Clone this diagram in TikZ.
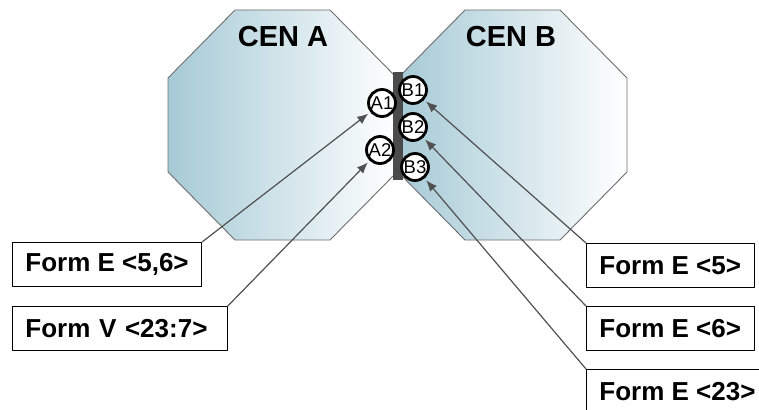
\documentclass[tikz,border=0pt]{standalone}
\usepackage{fontspec}
\setmainfont{Liberation Sans}
\usetikzlibrary{arrows.meta}
\definecolor{cenblue}{RGB}{166,202,214}
\definecolor{edgegray}{RGB}{110,110,110}
\definecolor{bargray}{RGB}{75,75,75}
\definecolor{arrgray}{RGB}{80,80,80}
\tikzset{
  cen/.style={draw=edgegray,line width=.9pt,left color=cenblue,right color=white},
  port/.style={circle,draw,line width=2.8pt,fill=white,minimum size=27pt,inner sep=0pt,font=\fontsize{18.5}{18}\selectfont},
  formbox/.style={draw,line width=.8pt,inner xsep=13pt,minimum height=44pt,align=left,font=\fontsize{26}{30}\selectfont\bfseries},
  link/.style={draw=arrgray,line width=1.2pt,-{Latex[length=11pt,width=9pt]},shorten >=2.5pt}
}
\begin{document}
\begin{tikzpicture}[x=1pt,y=-1pt,line join=round]
\useasboundingbox (0,0) rectangle (759,409);
% the two centres
\path[cen] (235,10)--(330,10)--(397,78)--(397,172)--(330,240)--(235,240)--(168,172)--(168,78)--cycle;
\path[cen] (465,10)--(560,10)--(627,78)--(627,172)--(560,240)--(465,240)--(398,172)--(398,78)--cycle;
\fill[bargray] (393,72) rectangle (403,180);
\node[font=\fontsize{29}{30}\selectfont\bfseries] (cenA) at (283,37) {CEN A};
\node[font=\fontsize{29}{30}\selectfont\bfseries] (cenB) at (511,37) {CEN B};
% ports
\foreach \n/\x/\y in {A1/382/103,A2/380/150,B1/413/90,B2/413/127,B3/415/167}
  \node[port] (\n) at (\x,\y) {\n};
% forms
\node[formbox,anchor=north west] (fE56) at (12,242) {Form E <5,6>};
\node[formbox,anchor=north west,text width=189pt] (fV237) at (12,306) {Form V <23:7>};
\node[formbox,anchor=north west] (fE5) at (586,243) {Form E <5>};
\node[formbox,anchor=north west] (fE6) at (586,306) {Form E <6>};
\node[formbox,anchor=north west] (fE23) at (586,369) {Form E <23>};
% links
\foreach \f/\p in {fE56/A1,fV237/A2}\draw[link] (\f.north east)--(\p);
\foreach \f/\p in {fE5/B1,fE6/B2,fE23/B3}\draw[link] (\f.north west)--(\p);
\end{tikzpicture}
\end{document}
